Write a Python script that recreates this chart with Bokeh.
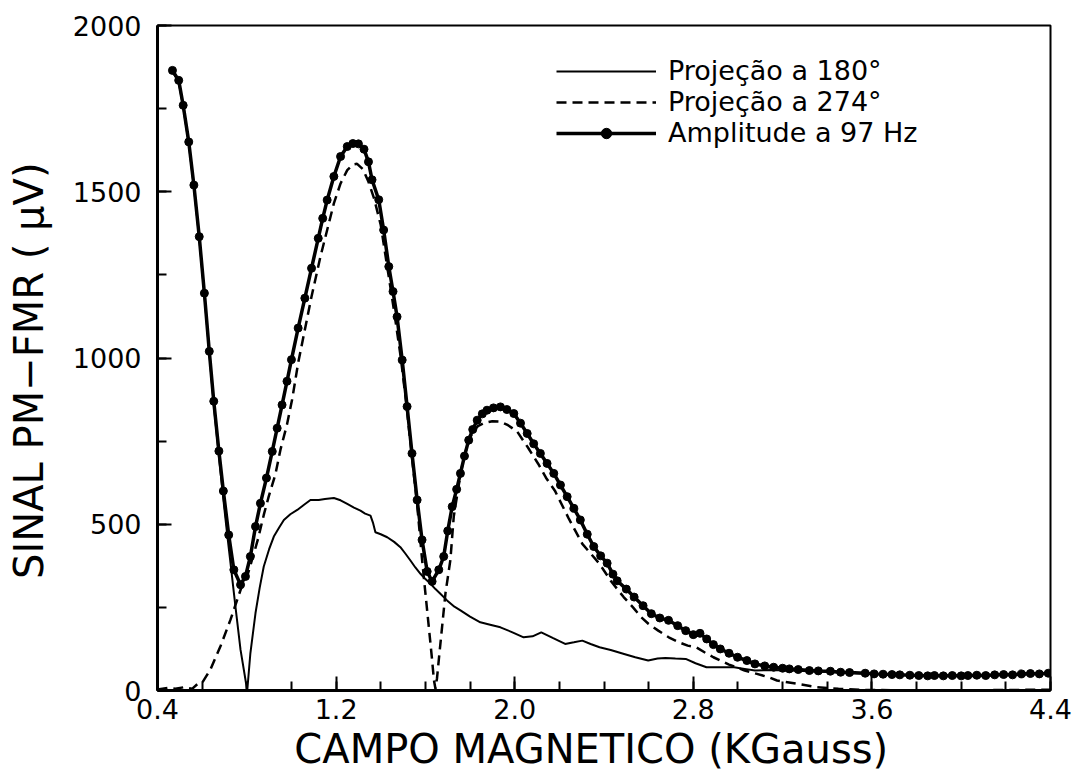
from bokeh.plotting import figure
from bokeh.models import FixedTicker, Legend, LegendItem
from bokeh.embed import file_html
from bokeh.resources import INLINE

# ---------------- data ----------------
amp_x = [0.467, 0.495, 0.515, 0.54, 0.563, 0.587, 0.61, 0.632, 0.652, 0.675, 0.695, 0.719,
         0.742, 0.772, 0.794, 0.816, 0.839, 0.861, 0.888, 0.914, 0.936, 0.958, 0.98, 1.00,
         1.03, 1.06, 1.09, 1.12, 1.14, 1.16, 1.19, 1.22, 1.25, 1.275, 1.30, 1.325, 1.345,
         1.361, 1.391, 1.413, 1.436, 1.455, 1.473, 1.496, 1.518, 1.54, 1.563, 1.585, 1.608,
         1.63, 1.66, 1.682, 1.70, 1.72, 1.74, 1.757, 1.775, 1.794, 1.812, 1.832, 1.855,
         1.876, 1.905, 1.936, 1.965, 1.996, 2.026, 2.056, 2.085, 2.115, 2.145, 2.175, 2.205,
         2.235, 2.265, 2.294, 2.325, 2.354, 2.385, 2.414, 2.44, 2.459, 2.5, 2.535, 2.575,
         2.612, 2.65, 2.689, 2.73, 2.766, 2.80, 2.83, 2.86, 2.89, 2.921, 2.96, 2.998, 3.04,
         3.076, 3.12, 3.16, 3.2, 3.23, 3.27, 3.32, 3.36, 3.414, 3.46, 3.5, 3.57, 3.61, 3.65,
         3.69, 3.725, 3.77, 3.81, 3.85, 3.88, 3.92, 3.96, 4.0, 4.03, 4.07, 4.11, 4.15, 4.19,
         4.23, 4.27, 4.31, 4.35, 4.39]
amp_y = [1865, 1835, 1760, 1650, 1520, 1365, 1195, 1020, 870, 720, 600, 468,
         363, 318, 343, 403, 493, 563, 639, 719, 789, 859, 930, 995,
         1090, 1180, 1270, 1360, 1420, 1475, 1546, 1606, 1636, 1645, 1644, 1628, 1590,
         1536, 1476, 1385, 1275, 1200, 1124, 994, 854, 713, 573, 453, 358,
         328, 363, 403, 480, 553, 605, 653, 705, 753, 785, 813, 832,
         843, 850, 853, 845, 833, 804, 773, 742, 713, 683, 653, 618,
         583, 548, 513, 470, 433, 405, 383, 350, 330, 305, 281, 255,
         231, 218, 211, 195, 180, 168, 172, 155, 138, 125, 112, 100, 90,
         80, 74, 70, 67, 65, 63, 60, 59, 58, 55, 54, 52, 50, 49,
         48, 47, 46, 45, 44, 45, 44, 45, 44, 45, 46, 45, 47, 48,
         47, 50, 51, 50, 52]

p180_x = [0.467, 0.495, 0.515, 0.54, 0.563, 0.587, 0.61, 0.632, 0.652, 0.675, 0.695, 0.712,
          0.727, 0.749, 0.772, 0.802, 0.816, 0.839, 0.858, 0.876, 0.90, 0.921, 0.945, 0.966,
          0.995, 1.026, 1.055, 1.085, 1.122, 1.15, 1.19, 1.22, 1.25, 1.28, 1.309, 1.33, 1.354,
          1.365, 1.376, 1.40, 1.429, 1.46, 1.488, 1.51, 1.533, 1.555, 1.578, 1.60, 1.623,
          1.645, 1.667, 1.697, 1.73, 1.757, 1.80, 1.846, 1.89, 1.936, 1.99, 2.04, 2.08, 2.119,
          2.17, 2.226, 2.265, 2.303, 2.34, 2.38, 2.43, 2.49, 2.54, 2.598, 2.64, 2.675, 2.72,
          2.766, 2.81, 2.859, 2.92, 2.983, 3.03, 3.076, 3.15, 3.23, 3.32, 3.414, 3.5, 3.6,
          3.7, 3.8, 3.9, 4.0, 4.1, 4.2, 4.3, 4.39]
p180_y = [1860, 1830, 1755, 1645, 1515, 1360, 1190, 1015, 860, 705, 575, 470,
          383, 253, 122, 0, 112, 233, 310, 373, 425, 463, 490, 513,
          530, 543, 558, 573, 573, 576, 579, 572, 561, 550, 541, 532, 526,
          505, 476, 470, 461, 447, 431, 412, 391, 370, 351, 335, 321,
          305, 291, 271, 252, 241, 222, 205, 198, 190, 175, 160, 163, 175,
          158, 140, 145, 150, 140, 130, 122, 110, 100, 90, 96, 98, 96,
          95, 82, 70, 70, 70, 65, 60, 62, 60, 58, 56, 53, 50,
          48, 45, 44, 44, 45, 47, 49, 51]

p274_x = [0.40, 0.45, 0.48, 0.52, 0.555, 0.58, 0.60, 0.637, 0.682, 0.727, 0.757, 0.78, 0.80,
          0.82, 0.85, 0.876, 0.898, 0.928, 0.951, 0.98, 1.003, 1.03, 1.06, 1.09, 1.13, 1.16,
          1.19, 1.22, 1.25, 1.275, 1.294, 1.32, 1.345, 1.37, 1.40, 1.43, 1.46, 1.49, 1.515,
          1.54, 1.563, 1.585, 1.60, 1.615, 1.63, 1.638, 1.645, 1.652, 1.66, 1.675, 1.69, 1.712,
          1.727, 1.75, 1.772, 1.809, 1.835, 1.861, 1.90, 1.936, 1.97, 2.011, 2.06, 2.105, 2.14,
          2.18, 2.24, 2.303, 2.38, 2.43, 2.488, 2.53, 2.566, 2.60, 2.643, 2.69, 2.736, 2.775,
          2.813, 2.85, 2.89, 2.96, 3.03, 3.085, 3.137, 3.175, 3.265, 3.354, 3.45, 3.55, 3.7,
          3.9, 4.1, 4.3, 4.4]
p274_y = [3, 8, 5, 10, 5, 20, 23, 63, 133, 213, 273, 318, 340,
          385, 455, 528, 583, 650, 725, 800, 875, 985, 1085, 1185, 1305, 1385,
          1465, 1525, 1565, 1582, 1584, 1568, 1530, 1480, 1400, 1270, 1140, 1000, 860,
          700, 560, 394, 293, 193, 92, 32, 5, 37, 92, 193, 293, 393,
          523, 620, 704, 774, 795, 804, 810, 809, 798, 779, 730, 682, 640,
          601, 520, 441, 381, 330, 281, 250, 221, 200, 180, 160, 145, 135,
          130, 115, 100, 78, 60, 50, 40, 30, 20, 10, 5, 2, 1,
          0, 1, 2, 2]

x_ticks = [0.4, 1.2, 2.0, 2.8, 3.6, 4.4]
x_tick_labels = ["0.4", "1.2", "2.0", "2.8", "3.6", "4.4"]
x_minor = [0.4 + 0.2 * i for i in range(21)]
y_ticks = [0, 500, 1000, 1500, 2000]
y_tick_labels = ["0", "500", "1000", "1500", "2000"]
y_minor = [250 * i for i in range(9)]

legend_labels = ["Projeção a 180°", "Projeção a 274°", "Amplitude a 97 Hz"]

FONT = "DejaVu Sans"

# ---------------- figure ----------------
p = figure(width=1074, height=780, x_range=(0.4, 4.4), y_range=(0, 2000),
           output_backend="svg", toolbar_location=None,
           min_border_left=157, min_border_right=24, min_border_top=25, min_border_bottom=90,
           background_fill_color="white", border_fill_color="white")
p.grid.visible = False
p.outline_line_color = "black"
p.outline_line_width = 2

r180 = p.line(p180_x, p180_y, line_color="black", line_width=2)
r274 = p.line(p274_x, p274_y, line_color="black", line_width=2.5, line_dash="10 6")
ramp = p.line(amp_x, amp_y, line_color="black", line_width=3.5)
rdot = p.scatter(amp_x, amp_y, marker="circle", size=8, fill_color="black", line_color="black")

# axes
p.xaxis.ticker = FixedTicker(ticks=x_ticks, minor_ticks=x_minor)
p.xaxis.major_label_overrides = {t: l for t, l in zip(x_ticks, x_tick_labels)}
p.yaxis.ticker = FixedTicker(ticks=y_ticks, minor_ticks=y_minor)
p.yaxis.major_label_overrides = {t: l for t, l in zip(y_ticks, y_tick_labels)}

for ax in (p.xaxis, p.yaxis):
    ax.axis_line_width = 3
    ax.axis_line_color = "black"
    ax.major_tick_in = 14
    ax.major_tick_out = 0
    ax.minor_tick_in = 9
    ax.minor_tick_out = 0
    ax.major_tick_line_width = 2
    ax.minor_tick_line_width = 2
    ax.major_tick_line_color = "black"
    ax.minor_tick_line_color = "black"
    ax.major_label_text_font = FONT
    ax.major_label_text_font_size = "27px"
    ax.major_label_text_color = "black"
    ax.axis_label_text_font = FONT
    ax.axis_label_text_font_style = "normal"
    ax.axis_label_text_color = "black"

p.xaxis.axis_label = "CAMPO  MAGNETICO  (KGauss)"
p.xaxis.axis_label_text_font_size = "40px"
p.xaxis.major_label_standoff = 8
p.xaxis.axis_label_standoff = 4
p.yaxis.axis_label = "SINAL  PM−FMR  ( μV)"
p.yaxis.axis_label_text_font_size = "40px"
p.yaxis.major_label_standoff = 16
p.yaxis.axis_label_standoff = 18

# three single-row legends, stacked tightly as in the reference
row_bottoms = [604, 573, 542]
for lab, rends, yb in zip(legend_labels, [[r180], [r274], [ramp, rdot]], row_bottoms):
    lg = Legend(items=[LegendItem(label=lab, renderers=rends)], location=(399, yb))
    lg.padding = 0
    lg.margin = 0
    lg.spacing = 0
    lg.border_line_alpha = 0
    lg.background_fill_alpha = 0
    lg.glyph_width = 100
    lg.glyph_height = 26
    lg.label_height = 26
    lg.label_standoff = 12
    lg.label_text_font = FONT
    lg.label_text_font_size = "27px"
    lg.label_text_color = "black"
    p.add_layout(lg)

open("out.html", "w").write(file_html(p, INLINE))
